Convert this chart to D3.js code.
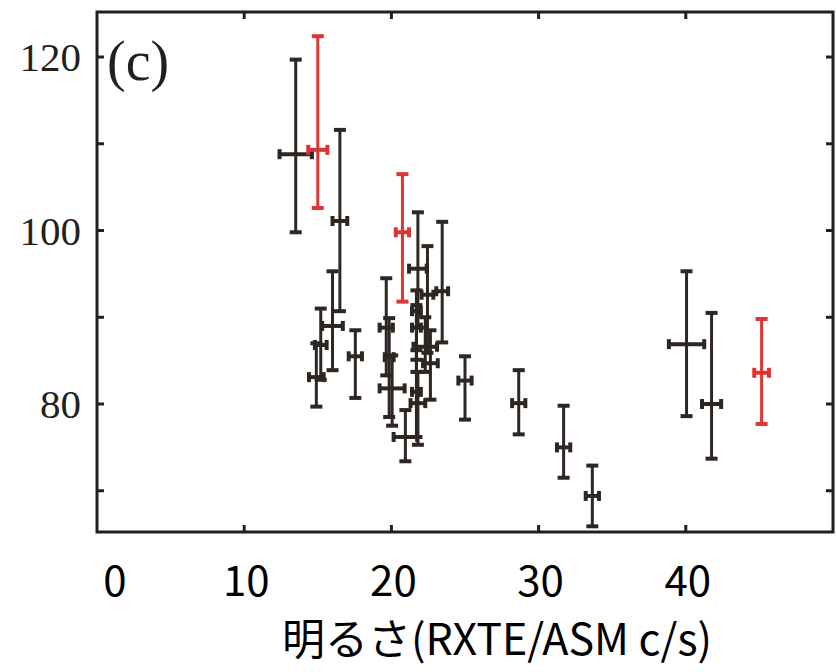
<!DOCTYPE html>
<html>
<head>
<meta charset="utf-8">
<script src="https://cdn.jsdelivr.net/npm/d3@7"></script>
<style>
  html, body { margin: 0; padding: 0; background: #fff; }
</style>
</head>
<body>
<div id="chart"></div>
<script>
// black points: x, x error, y, lower / upper end of the y error bar
var blackX    = [13.5, 14.9, 15.2, 16.0, 16.5, 17.55, 19.65, 19.85, 20.05, 20.95, 21.7, 21.7, 21.7, 21.8, 21.8, 22.3, 22.45, 22.65, 23.45, 25.0, 28.65, 31.7, 33.65, 40.05, 41.75];
var blackXErr = [1.1, 0.5, 0.4, 0.7, 0.5, 0.45, 0.45, 0.3, 0.85, 0.8, 0.3, 0.3, 0.3, 0.6, 0.5, 0.8, 0.4, 0.5, 0.4, 0.45, 0.45, 0.45, 0.45, 1.2, 0.65];
var blackY    = [108.8, 83.1, 86.8, 89.0, 101.1, 85.5, 88.8, 85.4, 81.8, 76.2, 90.7, 88.8, 81.4, 95.6, 80.1, 86.6, 92.6, 84.7, 93.0, 82.7, 80.1, 75.0, 69.4, 86.9, 80.0];
var blackYLow = [99.8, 79.7, 82.8, 83.9, 90.7, 80.7, 83.3, 78.5, 77.5, 73.4, 85.1, 83.7, 76.2, 88.8, 75.3, 83.7, 85.9, 80.5, 87.1, 78.2, 76.5, 71.5, 65.9, 78.6, 73.7];
var blackYHigh = [119.7, 87.0, 91.0, 95.3, 111.6, 88.5, 94.5, 89.9, 85.6, 79.3, 93.1, 91.4, 86.2, 102.1, 83.7, 90.0, 98.2, 88.5, 101.0, 85.5, 83.9, 79.8, 72.9, 95.3, 90.5];

// red points
var redX    = [15.0, 20.75, 45.15];
var redXErr = [0.65, 0.45, 0.5];
var redY    = [109.3, 99.8, 83.6];
var redYLow = [102.6, 91.8, 77.7];
var redYHigh = [122.4, 106.5, 89.8];

var xTickValues = [0, 10, 20, 30, 40];
var yTickValues = [70, 80, 90, 100, 110, 120];
var yTickLabels = [80, 100, 120];
var panelLabel = "(c)";
var xAxisTitle = "明るさ(RXTE/ASM c/s)";

(function () {
    "use strict";

    var vWidth = 837, vHeight = 672;
    var vPlot = { left: 97, right: 833, top: 12, bottom: 532 };
    var cBlack = "#2e2622", cRed = "#df3434", cAxis = "#231f20";

    var svg = d3.select("#chart")
        .append("svg")
        .attr("width", vWidth)
        .attr("height", vHeight);

    var vX = d3.scaleLinear().domain([0, 50]).range([vPlot.left, vPlot.right]);
    var vY = d3.scaleLinear().domain([65.245, 125.19]).range([vPlot.bottom, vPlot.top]);

    // build point records from the arrays
    function makePoints(aX, aXErr, aY, aLow, aHigh, aColor) {
        return aX.map(function (d, i) {
            return { x: d, xe: aXErr[i], y: aY[i], lo: aLow[i], hi: aHigh[i], color: aColor };
        });
    }
    var vPoints = makePoints(blackX, blackXErr, blackY, blackYLow, blackYHigh, cBlack)
        .concat(makePoints(redX, redXErr, redY, redYLow, redYHigh, cRed));

    // frame
    var vFrame = svg.append("g");
    vFrame.append("rect")
        .attr("x", vPlot.left)
        .attr("y", vPlot.top)
        .attr("width", vPlot.right - vPlot.left)
        .attr("height", vPlot.bottom - vPlot.top)
        .attr("fill", "none")
        .attr("stroke", cAxis)
        .attr("stroke-width", 3);

    // inward ticks on all four sides
    var vTickLen = 7;
    xTickValues.filter(function (d) { return d > 0; }).forEach(function (d) {
        vFrame.append("line")
            .attr("x1", vX(d)).attr("x2", vX(d))
            .attr("y1", vPlot.bottom).attr("y2", vPlot.bottom - vTickLen)
            .attr("stroke", cAxis).attr("stroke-width", 3);
        vFrame.append("line")
            .attr("x1", vX(d)).attr("x2", vX(d))
            .attr("y1", vPlot.top).attr("y2", vPlot.top + vTickLen)
            .attr("stroke", cAxis).attr("stroke-width", 3);
    });
    yTickValues.forEach(function (d) {
        vFrame.append("line")
            .attr("x1", vPlot.left).attr("x2", vPlot.left + vTickLen)
            .attr("y1", vY(d)).attr("y2", vY(d))
            .attr("stroke", cAxis).attr("stroke-width", 3);
        vFrame.append("line")
            .attr("x1", vPlot.right).attr("x2", vPlot.right - vTickLen)
            .attr("y1", vY(d)).attr("y2", vY(d))
            .attr("stroke", cAxis).attr("stroke-width", 3);
    });

    // y tick labels (serif)
    svg.append("g").selectAll("text")
        .data(yTickLabels)
        .enter()
        .append("text")
        .attr("x", 81)
        .attr("y", function (d) { return vY(d); })
        .attr("dy", "0.35em")
        .attr("text-anchor", "end")
        .style("font-family", "'Liberation Serif', 'Times New Roman', serif")
        .style("font-size", "41px")
        .attr("fill", cAxis)
        .text(function (d) { return d; });

    // panel label
    svg.append("text")
        .attr("x", 107)
        .attr("y", 80)
        .style("font-family", "'Liberation Serif', 'Times New Roman', serif")
        .style("font-size", "56px")
        .attr("fill", cAxis)
        .text(panelLabel);

    // x tick labels (sans, sitting a bit below the frame)
    svg.append("g").selectAll("text")
        .data(xTickValues)
        .enter()
        .append("text")
        .attr("x", function (d) { return vX(d) + (d === 0 ? 18 : 2); })
        .attr("y", 596)
        .attr("text-anchor", "middle")
        .style("font-family", "'Noto Sans CJK JP', 'Noto Sans', sans-serif")
        .style("font-size", "42px")
        .attr("fill", "#000")
        .text(function (d) { return d; });

    svg.append("text")
        .attr("x", 497)
        .attr("y", 655)
        .attr("text-anchor", "middle")
        .style("font-family", "'Noto Sans CJK JP', sans-serif")
        .style("font-size", "43px")
        .attr("fill", "#000")
        .text(xAxisTitle);

    // error bars
    var vCap = 6, vCapX = 5;
    var vBars = svg.append("g").selectAll("g")
        .data(vPoints)
        .enter()
        .append("g")
        .attr("stroke", function (d) { return d.color; });

    vBars.append("line")
        .attr("x1", function (d) { return vX(d.x); })
        .attr("x2", function (d) { return vX(d.x); })
        .attr("y1", function (d) { return vY(d.lo); })
        .attr("y2", function (d) { return vY(d.hi); })
        .attr("stroke-width", 3);
    vBars.append("line")
        .attr("x1", function (d) { return vX(d.x) - vCap; })
        .attr("x2", function (d) { return vX(d.x) + vCap; })
        .attr("y1", function (d) { return vY(d.lo); })
        .attr("y2", function (d) { return vY(d.lo); })
        .attr("stroke-width", 4);
    vBars.append("line")
        .attr("x1", function (d) { return vX(d.x) - vCap; })
        .attr("x2", function (d) { return vX(d.x) + vCap; })
        .attr("y1", function (d) { return vY(d.hi); })
        .attr("y2", function (d) { return vY(d.hi); })
        .attr("stroke-width", 4);
    vBars.append("line")
        .attr("x1", function (d) { return vX(d.x - d.xe); })
        .attr("x2", function (d) { return vX(d.x + d.xe); })
        .attr("y1", function (d) { return vY(d.y); })
        .attr("y2", function (d) { return vY(d.y); })
        .attr("stroke-width", 4);
    vBars.append("line")
        .attr("x1", function (d) { return vX(d.x - d.xe); })
        .attr("x2", function (d) { return vX(d.x - d.xe); })
        .attr("y1", function (d) { return vY(d.y) - vCapX; })
        .attr("y2", function (d) { return vY(d.y) + vCapX; })
        .attr("stroke-width", 4);
    vBars.append("line")
        .attr("x1", function (d) { return vX(d.x + d.xe); })
        .attr("x2", function (d) { return vX(d.x + d.xe); })
        .attr("y1", function (d) { return vY(d.y) - vCapX; })
        .attr("y2", function (d) { return vY(d.y) + vCapX; })
        .attr("stroke-width", 4);
})();
</script>
</body>
</html>
